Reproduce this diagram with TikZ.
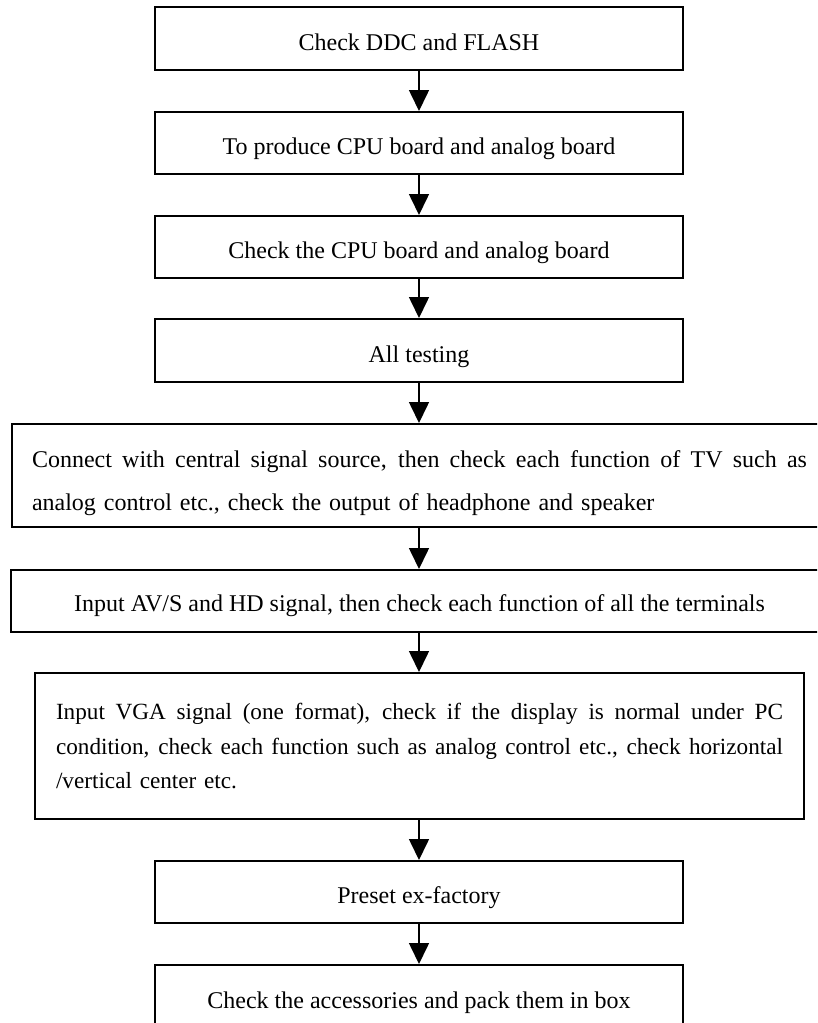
\documentclass[tikz,border=0pt]{standalone}
\usepackage{fontspec}
\setmainfont{Liberation Serif}
\usetikzlibrary{arrows.meta}
\newcommand{\jline}[2]{\makebox[#1][s]{\spaceskip=0pt\xspaceskip=0pt #2}}
\tikzset{
  stepbox/.style={draw=black, line width=2pt, inner sep=0pt, minimum width=528pt, minimum height=63pt,
    text height=23pt, text depth=0pt, font=\fontsize{24}{29}\selectfont},
  widebox/.style={draw=black, line width=2pt, inner xsep=20pt, inner ysep=0pt, align=left},
  flow/.style={line width=1.6pt, -{Triangle[width=20pt,length=21pt]}}
}
\begin{document}
\begin{tikzpicture}[x=1pt,y=-1pt]
\useasboundingbox (0,0) rectangle (817,1023);
\clip (0,0) rectangle (817,1023);
\fill[white] (0,0) rectangle (817,1023);
\node[stepbox] (b1) at (419,38.5) {Check DDC and FLASH};
\node[stepbox, minimum height=62pt] (b2) at (419,143) {To produce CPU board and analog board};
\node[stepbox, minimum height=62pt] (b3) at (419,247) {Check the CPU board and analog board};
\node[stepbox] (b4) at (419,350.5) {All testing};
\node[widebox, text width=775pt, minimum height=103pt, font=\fontsize{24}{43}\selectfont] (b5) at (419.5,475.5)
  {\rule{0pt}{33pt}\jline{775pt}{Connect with central signal source, then check each function of TV such as}\\
   analog control etc., check the output of headphone and speaker};
\node[stepbox, minimum width=817pt, minimum height=62pt, text height=21pt] (b6) at (419.5,601)
  {Input AV/S and HD signal, then check each function of all the terminals};
\node[widebox, text width=727pt, inner xsep=21pt, minimum height=146pt, font=\fontsize{23.2}{34.5}\selectfont] (b7) at (419.5,746)
  {\jline{727pt}{Input VGA signal (one format), check if the display is normal under PC}\\
   \jline{727pt}{condition, check each function such as analog control etc., check horizontal}\\
   /vertical center etc.};
\node[stepbox, minimum height=62pt] (b8) at (419,892) {Preset ex-factory};
\node[stepbox] (b9) at (419,996.5) {Check the accessories and pack them in box};
\draw[flow] (b1.south) -- (b2.north);
\draw[flow] (b2.south) -- (b3.north);
\draw[flow] (b3.south) -- (b4.north);
\draw[flow] (b4.south) -- (b5.north -| b4.south);
\draw[flow] (b5.south -| b4.south) -- (b6.north -| b4.south);
\draw[flow] (b6.south -| b4.south) -- (b7.north -| b4.south);
\draw[flow] (b7.south -| b4.south) -- (b8.north);
\draw[flow] (b8.south) -- (b9.north);
\end{tikzpicture}
\end{document}
